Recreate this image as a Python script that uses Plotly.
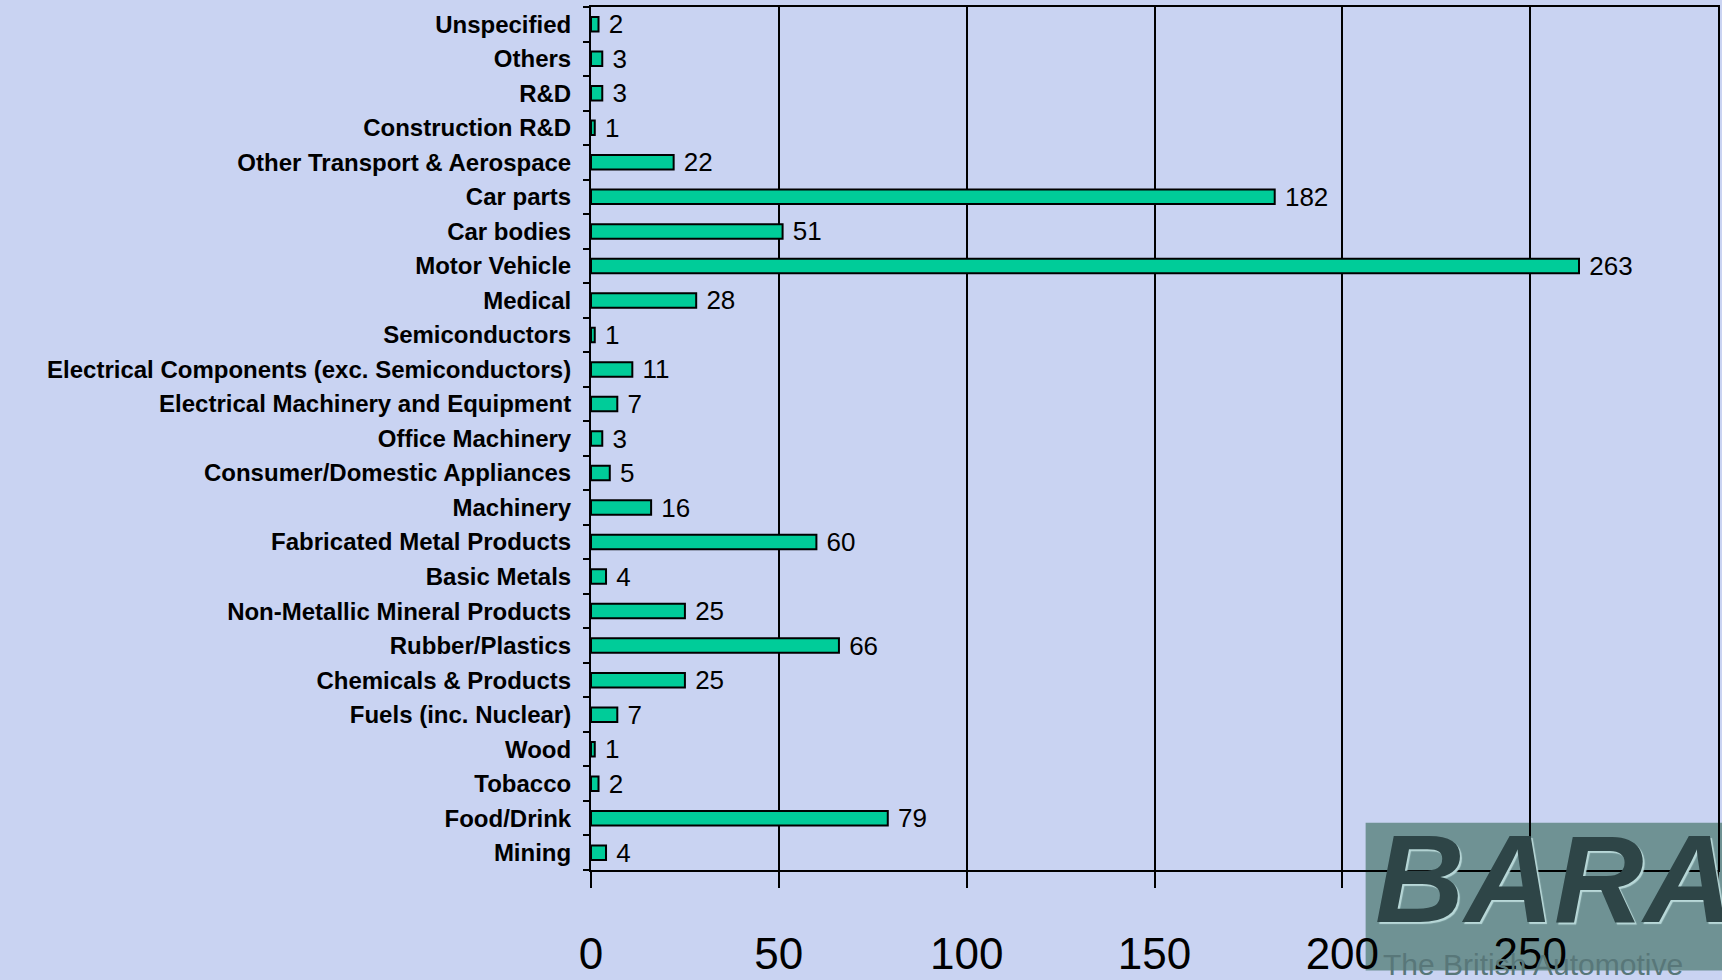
import plotly.graph_objects as go

categories = ["Mining", "Food/Drink", "Tobacco", "Wood", "Fuels (inc. Nuclear)",
              "Chemicals & Products", "Rubber/Plastics", "Non-Metallic Mineral Products",
              "Basic Metals", "Fabricated Metal Products", "Machinery",
              "Consumer/Domestic Appliances", "Office Machinery",
              "Electrical Machinery and Equipment",
              "Electrical Components (exc. Semiconductors)", "Semiconductors", "Medical",
              "Motor Vehicle", "Car bodies", "Car parts", "Other Transport & Aerospace",
              "Construction R&D", "R&D", "Others", "Unspecified"]
values = [4, 79, 2, 1, 7, 25, 66, 25, 4, 60, 16, 5, 3, 7, 11, 1, 28, 263, 51, 182, 22, 1, 3, 3, 2]
x_ticks = [0, 50, 100, 150, 200, 250, 300]

W, H = 1722, 980
L, R, T, B = 591, 2, 7, 97
PW, PH = W - L - R, H - T - B


def px(x):
    return (x - L) / PW


def py(y):
    return (H - B - y) / PH


fig = go.Figure()
fig.add_trace(go.Bar(
    y=categories, x=values, orientation="h",
    marker=dict(color="#00CC99", line=dict(color="black", width=2)),
    texttemplate=" %{x}", textposition="outside", constraintext="none",
    textfont=dict(family="Liberation Sans, Arial", size=26, color="black"),
    cliponaxis=False, width=0.42,
))

bg = "#C9D3F2"
fig.update_layout(
    width=W, height=H,
    margin=dict(l=L, r=R, t=T, b=B),
    paper_bgcolor=bg, plot_bgcolor="rgba(0,0,0,0)",
    showlegend=False,
    bargap=0.6,
    font=dict(family="Liberation Sans, Arial", color="black"),
)
fig.update_xaxes(
    range=[0, 300], tickvals=x_ticks, ticktext=[str(t) for t in x_ticks],
    showgrid=True, gridcolor="black", gridwidth=1.5,
    showline=True, linecolor="black", linewidth=2, mirror=True,
    ticks="outside", ticklen=16, tickwidth=2, tickcolor="black",
    tickfont=dict(size=44, family="Liberation Sans, Arial"),
    ticklabelstandoff=28, zeroline=False,
)
fig.update_yaxes(
    range=[-0.5, len(categories) - 0.5],
    showline=True, linecolor="black", linewidth=2, mirror=True,
    ticks="outside", ticklen=6, tickwidth=2, tickcolor="black",
    tickson="boundaries",
    tickvals=categories, ticktext=["<b>%s</b>" % c for c in categories],
    tickfont=dict(size=24, family="Liberation Sans, Arial"),
    ticklabelstandoff=13,
    showgrid=False,
)

# BARA logo (approximation) in bottom-right corner
fig.add_shape(type="rect", xref="paper", yref="paper",
              x0=px(1367), x1=px(1725), y0=py(985), y1=py(835),
              fillcolor="#6F9294", line=dict(width=0), layer="below")
fig.add_annotation(xref="paper", yref="paper",
                   x=px(1374), y=py(892),
                   xanchor="left", yanchor="middle", showarrow=False,
                   text="<b><i>BARA</i></b>",
                   font=dict(size=124, family="Liberation Sans, Arial", color="#2E4547",
                             shadow="2px 2px 1px #B8D8D8"))
fig.add_annotation(xref="paper", yref="paper",
                   x=px(1382), y=py(960),
                   xanchor="left", yanchor="top", showarrow=False,
                   text="The British Automotive",
                   font=dict(size=30, family="Liberation Sans, Arial", color="#587779"))

fig.write_html("out.html",
               config={"displayModeBar": False},
               post_script="document.body.style.margin='0';document.body.style.padding='0';"
                           "document.body.style.overflow='hidden';")
